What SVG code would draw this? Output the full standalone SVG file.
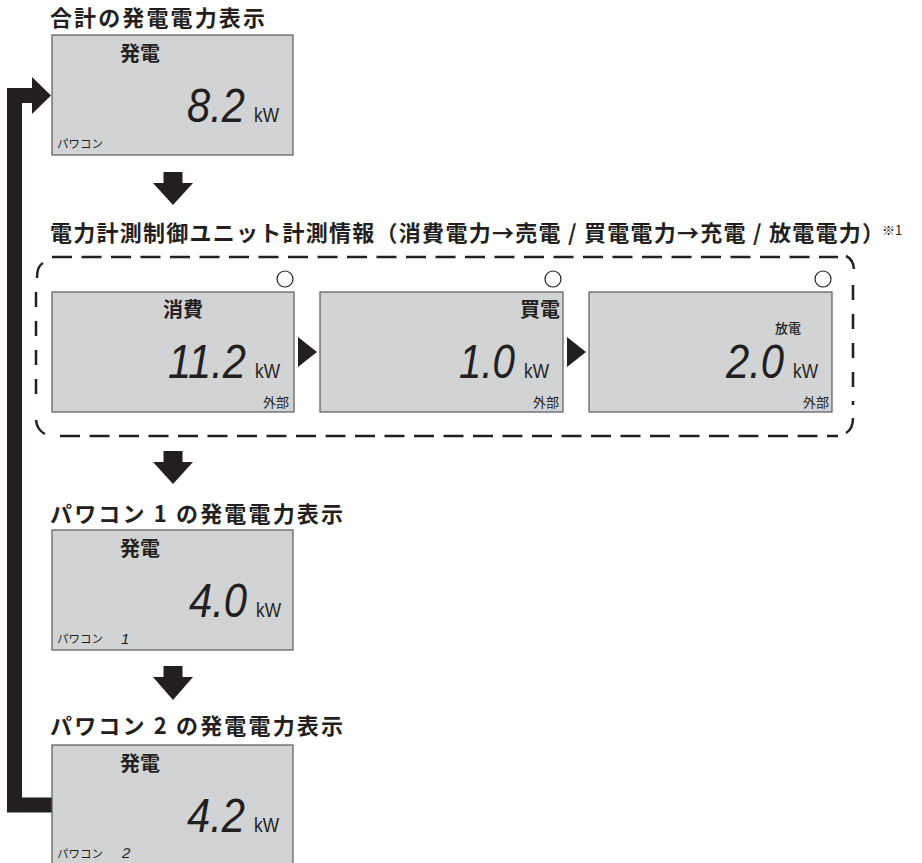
<svg xmlns="http://www.w3.org/2000/svg" width="922" height="863" viewBox="0 0 922 863">
<style>
.title{font-family:"Noto Sans CJK JP","Noto Sans CJK SC",sans-serif;font-size:22px;font-weight:700;fill:#231f20}
.panel{fill:#d1d3d4;stroke:#58595b;stroke-width:1.2}
.lbl{font-family:"Noto Sans CJK JP",sans-serif;font-size:20px;font-weight:700;fill:#231f20}
.sm{font-family:"Noto Sans CJK JP",sans-serif;font-size:11.5px;fill:#231f20}
.ext{font-family:"Noto Sans CJK JP",sans-serif;font-size:13px;fill:#231f20}
.seg{font-family:"Liberation Sans",Arial,sans-serif;font-style:italic;font-size:48px;fill:#231f20;text-anchor:end}
.segs{font-family:"Liberation Sans",Arial,sans-serif;font-style:italic;font-size:15px;fill:#231f20}
.unit{font-family:"Liberation Sans",Arial,sans-serif;font-size:21px;fill:#231f20}
.dash{fill:none;stroke:#231f20;stroke-width:2.5}
.lamp{fill:#ffffff;stroke:#231f20;stroke-width:1.2}
.arr{fill:#231f20}
.loop{fill:none;stroke:#231f20;stroke-width:15;stroke-linejoin:miter}
</style>

<!-- titles -->
<g id="titles">
<text class="title" x="50" y="26" textLength="215" lengthAdjust="spacing">合計の発電電力表示</text>
<text class="title" x="50" y="241" textLength="834" lengthAdjust="spacing">電力計測制御ユニット計測情報（消費電力→売電 / 買電電力→充電 / 放電電力）</text>
<text class="title" x="882" y="235" style="font-size:13px;font-weight:400">※1</text>
<text class="title" x="50" y="522" textLength="293" lengthAdjust="spacing">パワコン 1 の発電電力表示</text>
<text class="title" x="50" y="734" textLength="293" lengthAdjust="spacing">パワコン 2 の発電電力表示</text>
</g>

<!-- dashed group frame -->
<g id="frame" class="dash">
<line x1="52" y1="257" x2="838" y2="257" stroke-dasharray="20 9.5"/>
<line x1="60" y1="436" x2="838" y2="436" stroke-dasharray="20 9.5"/>
<line x1="36" y1="292" x2="36" y2="405" stroke-dasharray="15 14"/>
<line x1="853" y1="285" x2="853" y2="405" stroke-dasharray="15 14"/>
<path d="M37,278 Q37,266 43,263"/>
<path d="M846,256 Q853,259 854,269"/>
<path d="M36,420 Q37,430 45,434"/>
<path d="M853,418 Q853,429 846,433"/>
</g>

<!-- connectors -->
<g id="connectors">
<polyline class="loop" points="52,805 14.5,805 14.5,95.5 34,95.5"/>
<polygon class="arr" points="32,77 51,95.5 32,114"/>
<polygon class="arr" points="163.5,172 182.5,172 182.5,183 193,183 173,205 153,183 163.5,183"/>
<polygon class="arr" points="163.5,451 182.5,451 182.5,462 193,462 173,484 153,462 163.5,462"/>
<polygon class="arr" points="163.5,666 182.5,666 182.5,677 193,677 173,700 153,677 163.5,677"/>
<polygon class="arr" points="298,337 317,352 298,367"/>
<polygon class="arr" points="567,337 586,352 567,367"/>
</g>

<!-- total generation panel -->
<g id="panel-total">
<rect class="panel" x="52" y="35" width="241" height="120"/>
<text class="lbl" x="120" y="61">発電</text>
<text class="seg" x="245" y="122" textLength="58" lengthAdjust="spacingAndGlyphs">8.2</text>
<text class="unit" x="254" y="122" textLength="25" lengthAdjust="spacingAndGlyphs">kW</text>
<text class="sm" x="57" y="148">パワコン</text>
</g>

<!-- consumption panel -->
<g id="panel-consume">
<circle class="lamp" cx="285" cy="279" r="8"/>
<rect class="panel" x="52" y="292" width="242" height="120"/>
<text class="lbl" x="163" y="317">消費</text>
<text class="seg" x="246" y="378" textLength="78" lengthAdjust="spacingAndGlyphs">11.2</text>
<text class="unit" x="255" y="378" textLength="25" lengthAdjust="spacingAndGlyphs">kW</text>
<text class="ext" x="263" y="407">外部</text>
</g>

<!-- purchase panel -->
<g id="panel-buy">
<circle class="lamp" cx="553" cy="279" r="8"/>
<rect class="panel" x="320" y="292" width="243" height="120"/>
<text class="lbl" x="520" y="317">買電</text>
<text class="seg" x="515" y="378" textLength="56" lengthAdjust="spacingAndGlyphs">1.0</text>
<text class="unit" x="524" y="378" textLength="25" lengthAdjust="spacingAndGlyphs">kW</text>
<text class="ext" x="533" y="407">外部</text>
</g>

<!-- discharge panel -->
<g id="panel-discharge">
<circle class="lamp" cx="823" cy="279" r="8"/>
<rect class="panel" x="589" y="292" width="243" height="120"/>
<text class="ext" x="775" y="333" style="font-weight:500">放電</text>
<text class="seg" x="784" y="378" textLength="58" lengthAdjust="spacingAndGlyphs">2.0</text>
<text class="unit" x="793" y="378" textLength="25" lengthAdjust="spacingAndGlyphs">kW</text>
<text class="ext" x="803" y="407">外部</text>
</g>

<!-- PCS 1 panel -->
<g id="panel-pcs1">
<rect class="panel" x="52" y="530" width="241" height="120"/>
<text class="lbl" x="120" y="556">発電</text>
<text class="seg" x="247" y="617" textLength="58" lengthAdjust="spacingAndGlyphs">4.0</text>
<text class="unit" x="256" y="617" textLength="25" lengthAdjust="spacingAndGlyphs">kW</text>
<text class="sm" x="57" y="643">パワコン</text>
<text class="segs" x="121" y="644">1</text>
</g>

<!-- PCS 2 panel -->
<g id="panel-pcs2">
<rect class="panel" x="52" y="745" width="241" height="130"/>
<text class="lbl" x="120" y="771">発電</text>
<text class="seg" x="245" y="832" textLength="58" lengthAdjust="spacingAndGlyphs">4.2</text>
<text class="unit" x="254" y="832" textLength="25" lengthAdjust="spacingAndGlyphs">kW</text>
<text class="sm" x="57" y="858">パワコン</text>
<text class="segs" x="122" y="858">2</text>
</g>
</svg>
